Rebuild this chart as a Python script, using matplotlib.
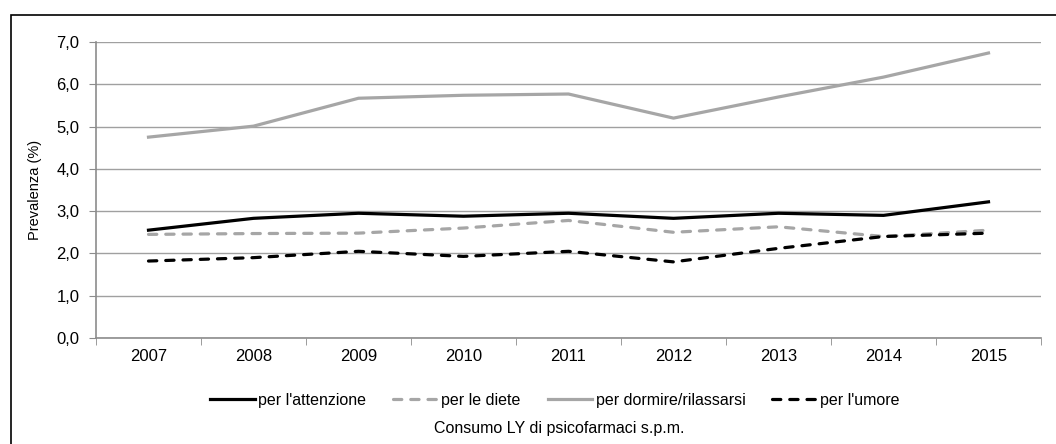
import numpy as np
import matplotlib
matplotlib.use("Agg")
import matplotlib.pyplot as plt
from matplotlib.patches import Rectangle

plt.rcParams['font.family'] = ['Liberation Sans', 'DejaVu Sans']

years = ['2007', '2008', '2009', '2010', '2011', '2012', '2013', '2014', '2015']
attenzione = [2.55, 2.83, 2.95, 2.88, 2.95, 2.83, 2.95, 2.90, 3.22]
diete = [2.45, 2.47, 2.48, 2.60, 2.78, 2.50, 2.63, 2.40, 2.55]
dormire = [4.75, 5.01, 5.67, 5.74, 5.77, 5.20, 5.70, 6.17, 6.74]
umore = [1.82, 1.90, 2.05, 1.93, 2.05, 1.80, 2.12, 2.40, 2.48]

labels = ["per l'attenzione", "per le diete", "per dormire/rilassarsi", "per l'umore"]
GRAY = '#a6a6a6'
AXIS_GRAY = '#8c8c8c'

fig = plt.figure(figsize=(10.56, 4.44), dpi=100)
ax = fig.add_axes([96 / 1056, 106 / 444, 945 / 1056, 296 / 444])

x = np.arange(len(years))
lw = 2.3
dash = dict(dashes=(2.6, 2.8), dash_capstyle='round')
ax.plot(x, attenzione, color='black', lw=lw, label=labels[0])
ax.plot(x, diete, color=GRAY, lw=lw, label=labels[1], **dash)
ax.plot(x, dormire, color=GRAY, lw=lw, label=labels[2])
ax.plot(x, umore, color='black', lw=lw, label=labels[3], **dash)

ax.set_xlim(-0.5, len(years) - 0.5)
ax.set_ylim(0, 7)
yt = np.arange(0, 7.1, 1)
ax.set_yticks(yt)
ax.set_yticklabels([f'{v:.1f}'.replace('.', ',') for v in yt], fontsize=12)
ax.set_xticks(x)
ax.set_xticklabels(years, fontsize=12)
ax.set_xticks(np.arange(-0.5, len(years)), minor=True)
ax.tick_params(axis='x', which='major', length=0, pad=8)
ax.tick_params(axis='x', which='minor', length=5, color=AXIS_GRAY, direction='out')
ax.tick_params(axis='y', length=5, color=AXIS_GRAY, direction='out', pad=7)

ax.grid(axis='y', color='#a0a0a0', lw=1)
ax.set_axisbelow(True)
for s in ['top', 'right']:
    ax.spines[s].set_visible(False)
for s in ['left', 'bottom']:
    ax.spines[s].set_color(AXIS_GRAY)
    ax.spines[s].set_linewidth(1.2)

ax.set_ylabel('Prevalenza (%)', fontsize=10.5, labelpad=10)

fig.legend(loc='center', bbox_to_anchor=(555 / 1056, 1 - 400 / 444), ncol=4,
           frameon=False, fontsize=11.5, handlelength=2.8, columnspacing=1.7,
           handletextpad=0.2)
fig.text(559 / 1056, 1 - 428 / 444, 'Consumo LY di psicofarmaci s.p.m.',
         ha='center', va='center', fontsize=11.5)

# outer frame (cut off at right and bottom)
fig.patches.append(Rectangle((11 / 1056, -0.05), 1.1, 1 - 15 / 444 + 0.05,
                             transform=fig.transFigure, fill=False,
                             edgecolor='black', lw=1.2))

fig.savefig('out.png', dpi=100)
